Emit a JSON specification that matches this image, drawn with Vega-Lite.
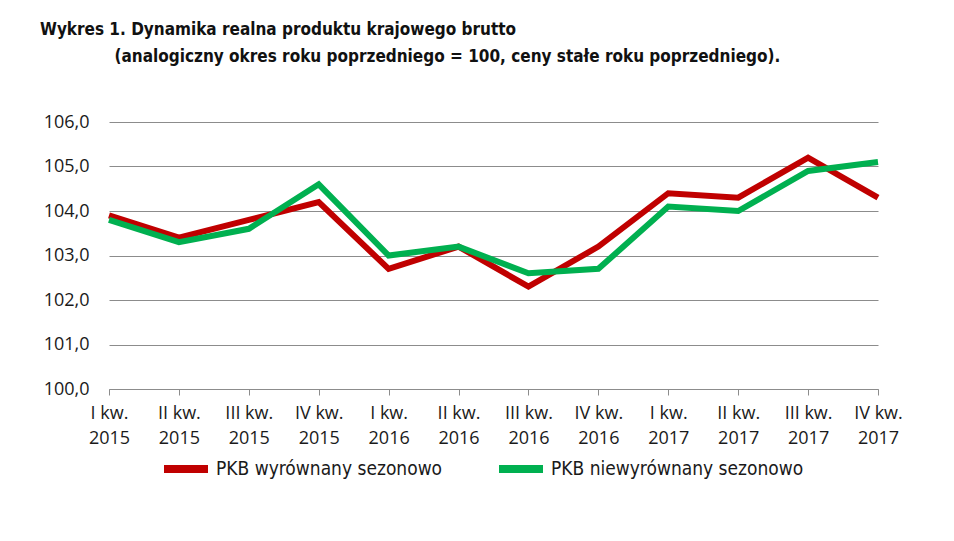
{
  "$schema": "https://vega.github.io/schema/vega-lite/v6.json",
  "width": 769,
  "height": 267,
  "autosize": "none",
  "padding": {"left": 109, "top": 122, "right": 76, "bottom": 152},
  "background": "white",
  "config": {
    "font": "DejaVu Sans Condensed, DejaVu Sans, sans-serif",
    "view": {"stroke": null},
    "axis": {
      "labelFont": "Open Sans",
      "labelFontSize": 18,
      "labelColor": "#1a1a1a",
      "gridColor": "#8c8c8c",
      "gridWidth": 1,
      "domainColor": "#8c8c8c",
      "tickColor": "#8c8c8c"
    },
    "legend": {
      "labelFont": "DejaVu Sans Condensed, DejaVu Sans, sans-serif",
      "labelFontSize": 19,
      "labelColor": "#1a1a1a",
      "labelLimit": 0
    }
  },
  "title": {
    "text": "Wykres 1. Dynamika realna produktu krajowego brutto",
    "subtitle": "\u200b\u00a0\u00a0\u00a0\u00a0\u00a0\u00a0\u00a0\u00a0\u00a0\u00a0\u00a0\u00a0\u00a0\u00a0(analogiczny okres roku poprzedniego = 100, ceny stałe roku poprzedniego).",
    "anchor": "start",
    "frame": "group",
    "dx": -69,
    "offset": 47,
    "font": "DejaVu Sans Condensed, DejaVu Sans, sans-serif",
    "fontSize": 17,
    "fontWeight": "bold",
    "color": "#111111",
    "subtitleFont": "DejaVu Sans Condensed, DejaVu Sans, sans-serif",
    "subtitleFontSize": 17,
    "subtitleFontWeight": "bold",
    "subtitleColor": "#111111",
    "subtitlePadding": 10
  },
  "data": {
    "values": [
      {"kwartal": "I kw. 2015", "seria": "PKB wyrównany sezonowo", "wartosc": 103.9},
      {"kwartal": "II kw. 2015", "seria": "PKB wyrównany sezonowo", "wartosc": 103.4},
      {"kwartal": "III kw. 2015", "seria": "PKB wyrównany sezonowo", "wartosc": 103.8},
      {"kwartal": "IV kw. 2015", "seria": "PKB wyrównany sezonowo", "wartosc": 104.2},
      {"kwartal": "I kw. 2016", "seria": "PKB wyrównany sezonowo", "wartosc": 102.7},
      {"kwartal": "II kw. 2016", "seria": "PKB wyrównany sezonowo", "wartosc": 103.2},
      {"kwartal": "III kw. 2016", "seria": "PKB wyrównany sezonowo", "wartosc": 102.3},
      {"kwartal": "IV kw. 2016", "seria": "PKB wyrównany sezonowo", "wartosc": 103.2},
      {"kwartal": "I kw. 2017", "seria": "PKB wyrównany sezonowo", "wartosc": 104.4},
      {"kwartal": "II kw. 2017", "seria": "PKB wyrównany sezonowo", "wartosc": 104.3},
      {"kwartal": "III kw. 2017", "seria": "PKB wyrównany sezonowo", "wartosc": 105.2},
      {"kwartal": "IV kw. 2017", "seria": "PKB wyrównany sezonowo", "wartosc": 104.3},
      {"kwartal": "I kw. 2015", "seria": "PKB niewyrównany sezonowo", "wartosc": 103.8},
      {"kwartal": "II kw. 2015", "seria": "PKB niewyrównany sezonowo", "wartosc": 103.3},
      {"kwartal": "III kw. 2015", "seria": "PKB niewyrównany sezonowo", "wartosc": 103.6},
      {"kwartal": "IV kw. 2015", "seria": "PKB niewyrównany sezonowo", "wartosc": 104.6},
      {"kwartal": "I kw. 2016", "seria": "PKB niewyrównany sezonowo", "wartosc": 103.0},
      {"kwartal": "II kw. 2016", "seria": "PKB niewyrównany sezonowo", "wartosc": 103.2},
      {"kwartal": "III kw. 2016", "seria": "PKB niewyrównany sezonowo", "wartosc": 102.6},
      {"kwartal": "IV kw. 2016", "seria": "PKB niewyrównany sezonowo", "wartosc": 102.7},
      {"kwartal": "I kw. 2017", "seria": "PKB niewyrównany sezonowo", "wartosc": 104.1},
      {"kwartal": "II kw. 2017", "seria": "PKB niewyrównany sezonowo", "wartosc": 104.0},
      {"kwartal": "III kw. 2017", "seria": "PKB niewyrównany sezonowo", "wartosc": 104.9},
      {"kwartal": "IV kw. 2017", "seria": "PKB niewyrównany sezonowo", "wartosc": 105.1}
    ]
  },
  "mark": {"type": "line", "strokeWidth": 6, "strokeJoin": "miter"},
  "encoding": {
    "x": {
      "field": "kwartal",
      "type": "ordinal",
      "sort": null,
      "scale": {"type": "point", "padding": 0},
      "title": null,
      "axis": {
        "labelAngle": 0,
        "labelExpr": "[slice(datum.label, 0, length(datum.label) - 5), slice(datum.label, -4)]",
        "labelLineHeight": 25,
        "labelPadding": 9,
        "tickSize": 6,
        "grid": false,
        "domain": true
      }
    },
    "y": {
      "field": "wartosc",
      "type": "quantitative",
      "scale": {"domain": [100, 106], "zero": false},
      "title": null,
      "axis": {
        "values": [100, 101, 102, 103, 104, 105, 106],
        "labelExpr": "replace(format(datum.value, '.1f'), '.', ',')",
        "domain": false,
        "ticks": false,
        "labelPadding": 20,
        "grid": true
      }
    },
    "color": {
      "field": "seria",
      "type": "nominal",
      "scale": {
        "domain": ["PKB wyrównany sezonowo", "PKB niewyrównany sezonowo"],
        "range": ["#c00000", "#00b050"]
      },
      "legend": {
        "title": null,
        "orient": "none",
        "legendX": 51,
        "legendY": 321,
        "direction": "horizontal",
        "symbolType": "stroke",
        "symbolStrokeWidth": 8,
        "symbolSize": 1936,
        "columnPadding": 40,
        "labelOffset": 4
      }
    }
  }
}
